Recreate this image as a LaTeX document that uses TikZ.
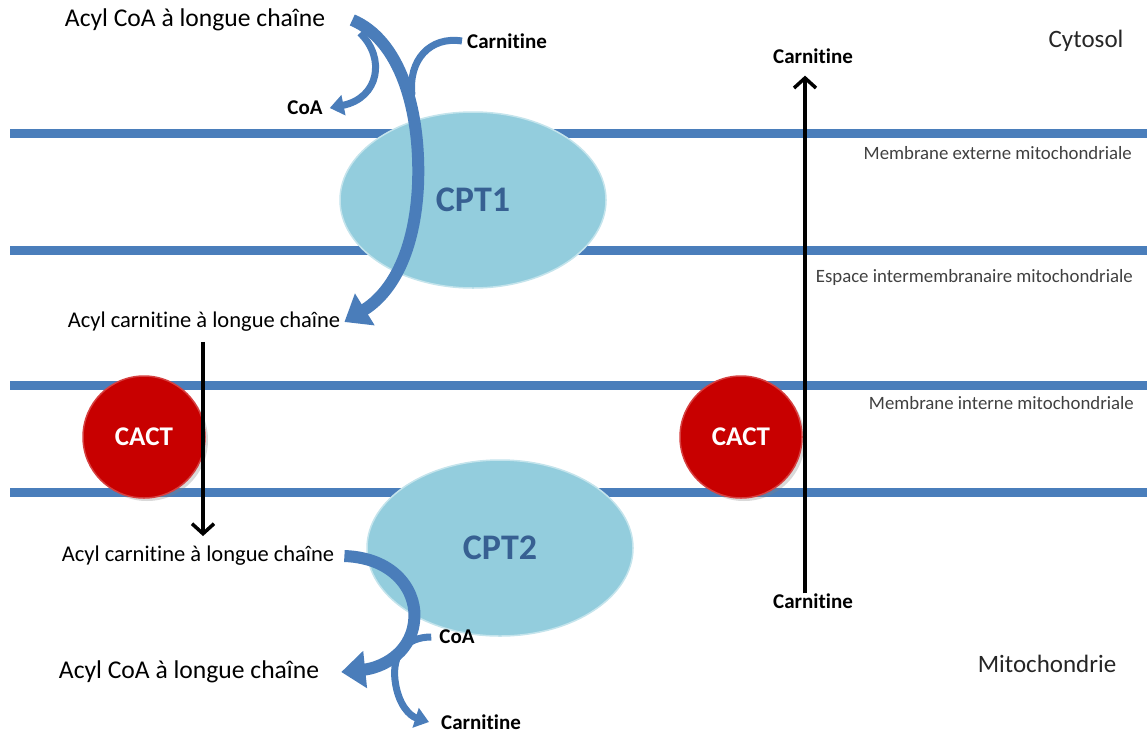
\documentclass[tikz,border=0pt]{standalone}
\usepackage{fontspec}
\setmainfont{Carlito}[Ligatures=NoCommon]
\usetikzlibrary{arrows.meta,shapes.geometric,shadows}

\definecolor{membraneblue}{HTML}{4A7EBB}
\definecolor{arrowblue}{HTML}{4A7DBA}
\definecolor{enzymeblue}{HTML}{93CDDD}
\definecolor{enzymetext}{HTML}{376092}
\definecolor{cactred}{HTML}{C80000}
\definecolor{zonegray}{HTML}{404040}

\tikzset{
  membrane/.style={membraneblue, line width=9pt},
  enzyme/.style={ellipse, fill=enzymeblue, draw=enzymeblue!55!white, line width=1.5pt,
    minimum width=266pt, minimum height=176pt, inner sep=0pt, text=enzymetext,
    font=\fontsize{36}{40}\selectfont\bfseries},
  cact/.style={circle, fill=cactred, draw=cactred!75!white, line width=1.5pt,
    minimum size=122pt, inner sep=0pt, text=white, font=\fontsize{27}{30}\selectfont\bfseries,
    drop shadow={opacity=0.3, shadow xshift=3pt, shadow yshift=-3pt}},
  bigname/.style={inner sep=0pt, font=\fontsize{25.6}{30}\selectfont},
  midname/.style={inner sep=0pt, font=\fontsize{22.5}{26}\selectfont},
  smallname/.style={inner sep=0pt, font=\fontsize{21}{24}\selectfont\bfseries},
  zone/.style={inner sep=0pt, anchor=east, text=zonegray, font=\fontsize{18.8}{22}\selectfont},
  place/.style={inner sep=0pt, text=black!85, font=\fontsize{25}{30}\selectfont},
  bigarrow/.style={arrowblue, line width=12pt, -{Triangle[width=36pt,length=24pt]}},
  smallarrow/.style={arrowblue, line width=7pt, -{Triangle[width=20pt,length=14pt]}},
  transport/.style={black, line width=3.5pt, -{Straight Barb[length=10pt,width=22pt]}}
}

\begin{document}
\begin{tikzpicture}[x=1pt, y=-1pt]
    \useasboundingbox (0,0) rectangle (1147,734) ;

    \foreach \y in {133,250,385,492}
        \draw[membrane] (10,\y) -- (1147,\y) ;

    \node[enzyme] (cpt1) at (473,200) {CPT1} ;
    \node[enzyme] (cpt2) at (500,548) {CPT2} ;
    \node[cact] (cact_left) at (144,437) {CACT} ;
    \node[cact] (cact_right) at (741,437) {CACT} ;

    \node[bigname] (acylcoa_out) at (195,20) {Acyl CoA à longue chaîne} ;
    \node[smallname] (carn_out) at (507,41) {Carnitine} ;
    \node[smallname] (coa_out) at (305,108) {CoA} ;
    \node[midname] (acylcarn_ims) at (204,322) {Acyl carnitine à longue chaîne} ;
    \node[midname] (acylcarn_in) at (198,556) {Acyl carnitine à longue chaîne} ;
    \node[bigname] (acylcoa_in) at (189,672) {Acyl CoA à longue chaîne} ;
    \node[smallname] (coa_in) at (457,637) {CoA} ;
    \node[smallname] (carn_in) at (481,722) {Carnitine} ;
    \node[smallname] (carn_free_in) at (813,601) {Carnitine} ;
    \node[smallname] (carn_free_out) at (813,56) {Carnitine} ;

    \node[place] (cytosol) at (1086,41) {Cytosol} ;
    \node[place] (mito) at (1047,664) {Mitochondrie} ;
    \node[zone] (mem_ext) at (1132,153) {Membrane externe mitochondriale} ;
    \node[zone] (ims) at (1133,277) {Espace intermembranaire mitochondriale} ;
    \node[zone] (mem_int) at (1134,403) {Membrane interne mitochondriale} ;

    \coordinate (join_cpt1) at (412,95) ;
    \coordinate (split_cpt1) at (360,33) ;

    \draw[bigarrow] ([xshift=27pt]acylcoa_out.east) .. controls (400,40) and (421,110) .. (418,185)
        .. controls (415,250) and (393,292) .. ([xshift=4pt]acylcarn_ims.east) ;
    \draw[smallarrow, -] ([xshift=-5pt]carn_out.west) .. controls (430,36) and (408,60) .. (join_cpt1) ;
    \draw[smallarrow] (split_cpt1) .. controls (386,58) and (379,98) .. ([xshift=7pt]coa_out.east) ;

    \draw[bigarrow] ([xshift=10pt]acylcarn_in.east) .. controls (398,558) and (418,595) .. (414,622)
        .. controls (410,655) and (380,668) .. ([xshift=22pt]acylcoa_in.east) ;
    \draw[smallarrow] ([xshift=-8pt]coa_in.west) .. controls (405,637) and (392,655) .. (395,680)
        .. controls (398,705) and (410,716) .. ([xshift=-12pt]carn_in.west) ;

    \draw[transport] ([xshift=-1pt,yshift=-10pt]acylcarn_ims.south) -- ([xshift=5pt,yshift=10pt]acylcarn_in.north) ;
    \draw[transport] ([xshift=-8pt]carn_free_in.north) -- ([xshift=-8pt,yshift=-12pt]carn_free_out.south) ;

\end{tikzpicture}
\end{document}
